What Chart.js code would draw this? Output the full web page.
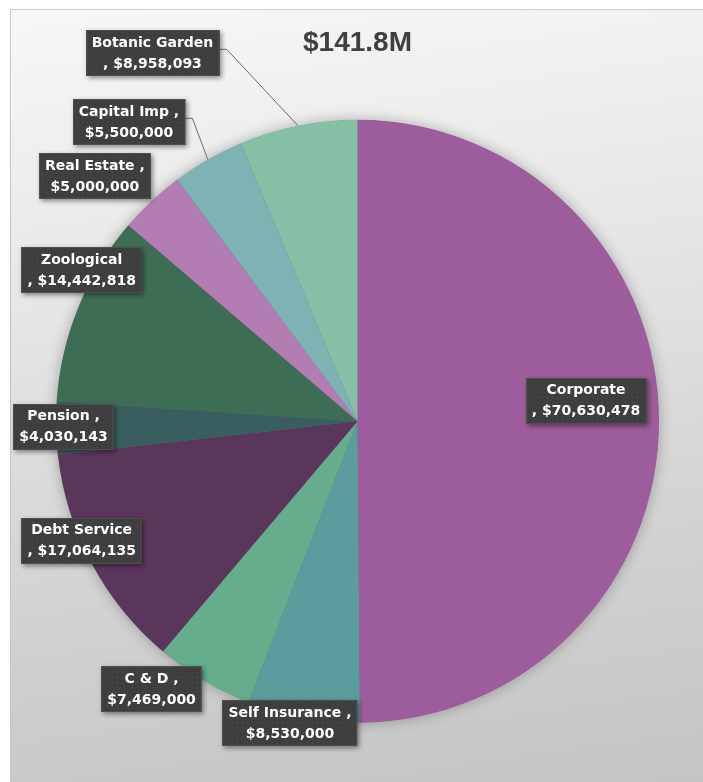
<!DOCTYPE html>
<html>
<head>
<meta charset="utf-8">
<script src="https://cdn.jsdelivr.net/npm/chart.js@4.4.1/dist/chart.umd.min.js"></script>
<style>
  html, body { margin: 0; padding: 0; background: #fff; }
  #frame {
    position: absolute; left: 10px; top: 9px; width: 693px; height: 773px;
    box-sizing: border-box;
    border-left: 1px solid #c6c6c6; border-top: 1px solid #cfcfcf;
    background: linear-gradient(172deg, #f7f7f7 0%, #e6e6e6 35%, #d2d2d2 70%, #c4c4c4 100%);
  }
  #wrap { position: absolute; left: 0; top: 0; width: 703px; height: 782px; }
</style>
</head>
<body>
<div id="frame"></div>
<div id="wrap"><canvas id="budget"></canvas></div>
<script>
// ---- data (clockwise from 12 o'clock) ----
const funds = ["Corporate", "Self Insurance", "C & D", "Debt Service", "Pension",
               "Zoological", "Real Estate", "Capital Imp", "Botanic Garden"];
const amounts = [70630478, 8530000, 7469000, 17064135, 4030143,
                 14442818, 5000000, 5500000, 8958093];
const colors = ["#9d5c9b", "#5b9c9d", "#65ad8d", "#5b365b", "#385f5e",
                "#3d6e55", "#b37db3", "#7db3b3", "#85bfa5"];
// label text as Excel wrapped it
const labelTop = ["Corporate", "Self Insurance ,", "C & D ,", "Debt Service", "Pension ,",
                  "Zoological", "Real Estate ,", "Capital Imp ,", "Botanic Garden"];
const labelBottom = [", $70,630,478", "$8,530,000", "$7,469,000", ", $17,064,135", "$4,030,143",
                     ", $14,442,818", "$5,000,000", "$5,500,000", ", $8,958,093"];
const totalText = "$141.8M";

// ---- label layout: box centre in pie radii from the centre ----
const labelSpot = [[0.758, -0.068], [-0.224, 1.002], [-0.683, 0.889], [-0.915, 0.396],
                   [-0.975, 0.018], [-0.915, -0.501], [-0.871, -0.813], [-0.758, -0.992],
                   [-0.680, -1.222]];
const hasLeader = [false, false, false, false, false, false, false, true, true];

const LABEL_FONT = "bold 14px 'DejaVu Sans', sans-serif";

function dotPattern(ctx) {
  const c = document.createElement("canvas");
  c.width = 5; c.height = 5;
  const p = c.getContext("2d");
  p.fillStyle = "#3e3e3e"; p.fillRect(0, 0, 5, 5);
  p.fillStyle = "#4c4c4c"; p.fillRect(2, 2, 1, 1);
  return ctx.createPattern(c, "repeat");
}

const pieShadow = {
  id: "pieShadow",
  beforeDatasetsDraw(chart) {
    const arc = chart.getDatasetMeta(0).data[0];
    if (!arc) return;
    const { x, y, outerRadius } = arc.getProps(["x", "y", "outerRadius"], true);
    const ctx = chart.ctx;
    ctx.save();
    ctx.shadowColor = "rgba(0,0,0,0.3)";
    ctx.shadowBlur = 14;
    ctx.fillStyle = "#7a5a7a";
    ctx.beginPath(); ctx.arc(x, y, outerRadius - 0.5, 0, Math.PI * 2); ctx.fill();
    ctx.restore();
  }
};

const calloutLabels = {
  id: "calloutLabels",
  afterDatasetsDraw(chart) {
    const ctx = chart.ctx;
    const pattern = dotPattern(ctx);
    chart.getDatasetMeta(0).data.forEach((arc, i) => {
      const { x, y, startAngle, endAngle, outerRadius: r } =
        arc.getProps(["x", "y", "startAngle", "endAngle", "outerRadius"], true);
      const cx = x + labelSpot[i][0] * r, cy = y + labelSpot[i][1] * r;
      ctx.save();
      ctx.font = LABEL_FONT;
      const w = Math.max(ctx.measureText(labelTop[i]).width, ctx.measureText(labelBottom[i]).width) + 12;
      const h = 46;
      const bx = Math.round(cx - w / 2), by = Math.round(cy - h / 2);

      if (hasLeader[i]) {
        const mid = (startAngle + endAngle) / 2;
        ctx.strokeStyle = "#6a6a6a"; ctx.lineWidth = 1;
        ctx.beginPath();
        ctx.moveTo(x + r * Math.cos(mid), y + r * Math.sin(mid));
        ctx.lineTo(bx + w + 7, by + h * 0.42);
        ctx.lineTo(bx + w, by + h * 0.42);
        ctx.stroke();
      }

      ctx.shadowColor = "rgba(0,0,0,0.45)";
      ctx.shadowBlur = 5; ctx.shadowOffsetX = 2; ctx.shadowOffsetY = 2;
      ctx.fillStyle = pattern;
      ctx.fillRect(bx, by, w, h);
      ctx.shadowColor = "transparent";
      ctx.strokeStyle = "#4f4f4f"; ctx.lineWidth = 1;
      ctx.strokeRect(bx + 0.5, by + 0.5, w - 1, h - 1);

      ctx.fillStyle = "#ffffff";
      ctx.textAlign = "center"; ctx.textBaseline = "middle";
      ctx.fillText(labelTop[i], cx, cy - 10);
      ctx.fillText(labelBottom[i], cx, cy + 11);
      ctx.restore();
    });
  }
};

new Chart(document.getElementById("budget"), {
  type: "pie",
  data: {
    labels: funds,
    datasets: [{ data: amounts, backgroundColor: colors, borderWidth: 0, hoverOffset: 0, offset: 0 }]
  },
  options: {
    responsive: true,
    maintainAspectRatio: false,
    animation: false,
    events: [],
    layout: { padding: { top: 10, left: 56, right: 44, bottom: 59 } },
    plugins: {
      legend: { display: false },
      tooltip: { enabled: false },
      title: {
        display: true, text: totalText, color: "#404040",
        font: { family: "'Liberation Sans', Arial, sans-serif", size: 28, weight: "bold" },
        padding: { top: 16, bottom: 60 }
      }
    }
  },
  plugins: [pieShadow, calloutLabels]
});
</script>
</body>
</html>
